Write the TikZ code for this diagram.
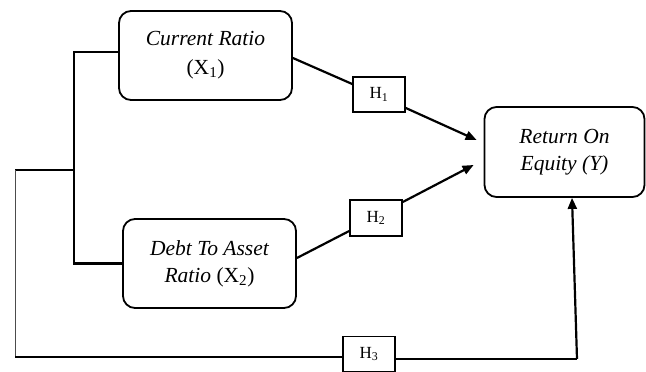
\documentclass[tikz,border=0pt]{standalone}
\usepackage{fontspec}
\setmainfont{Liberation Serif}
\usetikzlibrary{arrows.meta,calc}
\begin{document}
\begin{tikzpicture}[x=1pt,y=-1pt,
  varbox/.style={draw,line width=1.8pt,rounded corners=12pt,inner sep=0pt,
    align=center,font=\fontsize{21.5}{27}\selectfont},
  hbox/.style={draw,line width=1.6pt,inner sep=0pt,
    font=\fontsize{17}{20}\selectfont},
  link/.style={line width=2.2pt},
  arr/.style={line width=2.2pt,-{Triangle[length=11pt,width=9pt]}}]
\useasboundingbox (0,0) rectangle (646,372);

% variables
\node[varbox,minimum width=173pt,minimum height=89pt] (X1) at (205.5,55.5)
  {\itshape Current Ratio\\[2pt](X\textsubscript{1})};
\node[varbox,minimum width=173pt,minimum height=89pt] (X2) at (209.5,263.5)
  {\itshape Debt To Asset\\\itshape Ratio \upshape(X\textsubscript{2})};
\node[varbox,minimum width=160pt,minimum height=90pt] (Y) at (564.5,152)
  {\itshape Return On\\\itshape Equity (Y)};

% hypothesis labels
\node[hbox,minimum width=52pt,minimum height=35pt] (H1) at (379,94.5) {H\textsubscript{1}};
\node[hbox,minimum width=52pt,minimum height=36pt] (H2) at (376,218) {H\textsubscript{2}};
\node[hbox,minimum width=52pt,minimum height=35pt] (H3) at (369,354) {H\textsubscript{3}};

% joint-effect bracket
\coordinate (jt) at (74,52);
\coordinate (jb) at (74,263.5);
\coordinate (jm) at (74,170);
\coordinate (tl) at (15,170);
\coordinate (bl) at (15,357);
\coordinate (br) at (577,359);

\draw[link] (X1.west |- jt) -- (jt) -- (jb) -- (X2.west);
\draw[link] (jm) -- (tl);
\draw[line width=1pt,black!70] (tl) -- (bl);
\draw[link] (bl) -- (H3.west |- bl);
\draw[link] (H3.east |- br) -- (br);
\draw[arr] (br) -- ($(Y.south)+(7.5,0)$);

% partial effects
\draw[link] ($(X1.east)+(0,2.5)$) -- ($(H1.west)+(0,-10.5)$);
\draw[arr] ($(H1.east)+(0,13.5)$) -- ($(Y.west)+(-7,-12)$);
\draw[link] ($(X2.east)+(0,-5.5)$) -- ($(H2.west)+(0,13)$);
\draw[arr] ($(H2.east)+(0,-16)$) -- ($(Y.west)+(-10,13)$);
\end{tikzpicture}
\end{document}
